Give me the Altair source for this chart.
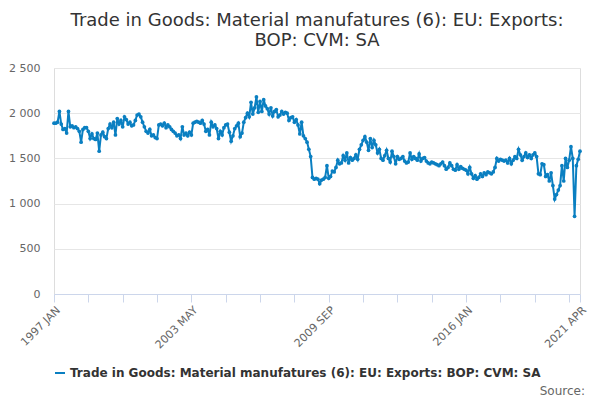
import altair as alt
import pandas as pd

values = [
    1890, 1890, 1900, 2020, 1880, 1820, 1830, 1780, 2020, 1850, 1860, 1840,
    1850, 1830, 1800, 1680, 1820, 1840, 1840, 1800, 1720, 1770, 1720, 1710,
    1780, 1580, 1760, 1790, 1740, 1720, 1830, 1880, 1840, 1900, 1760, 1940,
    1880, 1920, 1850, 1960, 1930, 1880, 1900, 1860, 1870, 1920, 1980, 1990,
    1960, 1900, 1850, 1800, 1780, 1820, 1750, 1760, 1730, 1720, 1870, 1880,
    1860, 1890, 1840, 1870, 1850, 1820, 1800, 1780, 1750, 1760, 1720, 1850,
    1760, 1780, 1750, 1790, 1760, 1890, 1900, 1910, 1900, 1890, 1920, 1880,
    1800, 1820, 1760, 1900, 1850, 1870, 1830, 1720, 1800, 1760, 1840, 1870,
    1880, 1790, 1690, 1750, 1830, 1860, 1890, 1740, 1780, 1900, 1950, 2000,
    1960, 2120, 1990, 2060, 2180, 2010, 2130, 2020, 2150, 2080, 2050, 1990,
    2060, 1970, 2020, 2040, 1960, 1980, 2020, 1990, 2010, 2000, 1920, 1950,
    1960, 1900, 1930, 1870, 1770, 1900, 1750, 1720, 1680, 1600, 1520, 1290,
    1270, 1280, 1270, 1220, 1260, 1270, 1290, 1420, 1280, 1300, 1360, 1350,
    1400, 1480, 1440, 1450, 1530, 1480, 1560, 1450, 1510, 1480, 1500, 1540,
    1490, 1600, 1650, 1700, 1740, 1680, 1590, 1720, 1620, 1700, 1650, 1560,
    1600, 1500, 1480, 1530, 1590, 1500, 1460, 1580, 1520, 1440, 1520, 1490,
    1500, 1520, 1470, 1450, 1460, 1560, 1490, 1520, 1500, 1480, 1550, 1470,
    1500, 1510, 1470, 1450, 1440, 1460, 1450, 1440, 1430, 1420, 1440, 1460,
    1420, 1380, 1400, 1450, 1420, 1380, 1370, 1430, 1380, 1410, 1390, 1380,
    1370, 1330, 1400, 1330, 1280, 1310, 1270, 1290, 1330, 1300, 1340, 1320,
    1350, 1340, 1330, 1350, 1400, 1500, 1470, 1490, 1480, 1470, 1480, 1450,
    1500, 1440, 1480, 1520, 1500, 1600, 1540, 1480, 1520, 1560, 1510, 1540,
    1500, 1540, 1560, 1520, 1330, 1320, 1440, 1430, 1300, 1320, 1250, 1340,
    1200, 1050, 1100, 1150, 1200, 1420, 1250, 1500, 1400, 1480, 1630, 1500,
    860, 1420, 1490, 1580,
]
months = ["JAN", "FEB", "MAR", "APR", "MAY", "JUN", "JUL", "AUG", "SEP", "OCT", "NOV", "DEC"]
labels = [f"{1997 + i // 12} {months[i % 12]}" for i in range(len(values))]
series = "Trade in Goods: Material manufatures (6): EU: Exports: BOP: CVM: SA"

df = pd.DataFrame({"idx": range(len(values)), "label": labels, "value": values, "series": series})

label_idx = [0, 76, 152, 228, 291]
tick_idx = list(range(0, 291, 19)) + [291]
label_expr = " : ".join(
    f"datum.value == {i} ? '{labels[i]}'" for i in label_idx
) + " : ''"

line = alt.Chart(df).mark_line(
    color="#0a7fc1", strokeWidth=2,
    point=alt.OverlayMarkDef(color="#0a7fc1", size=14, filled=True),
).encode(
    x=alt.X("idx:Q", scale=alt.Scale(domain=[0, 291], nice=False),
            axis=alt.Axis(title=None, values=tick_idx, labelExpr=label_expr, labelAngle=-45,
                          grid=False, domainColor="#ccd6eb", tickColor="#ccd6eb", tickSize=8,
                          labelColor="#666666", labelFontSize=11, labelOverlap=False)),
    y=alt.Y("value:Q", scale=alt.Scale(domain=[0, 2500]),
            axis=alt.Axis(title=None, values=[0, 500, 1000, 1500, 2000, 2500],
                          labelExpr="replace(format(datum.value, ','), ',', ' ')",
                          domain=False, ticks=False, gridColor="#e6e6e6",
                          labelColor="#666666", labelFontSize=11, labelPadding=14)),
    color=alt.Color("series:N", scale=alt.Scale(range=["#0a7fc1"]),
                    legend=alt.Legend(title=None, orient="bottom", labelFontSize=12,
                                      labelFontWeight="bold", labelColor="#333333",
                                      labelLimit=0, symbolType="stroke", symbolStrokeWidth=2,
                                      offset=16)),
    tooltip=["label:N", "value:Q"],
)

source = alt.Chart(pd.DataFrame({"t": ["Source:"]})).mark_text(
    align="right", fontSize=12, color="#666666"
).encode(x=alt.value(531), y=alt.value(323), text="t:N")

chart = alt.layer(line, source).properties(
    width=526, height=226,
    padding={"left": 0, "top": 4, "right": 0, "bottom": 0},
    title=alt.Title(["Trade in Goods: Material manufatures (6): EU: Exports:", "BOP: CVM: SA"],
                    fontSize=18, fontWeight="normal", color="#333333", offset=12),
).configure_view(stroke=None).configure(font="DejaVu Sans")

chart.save("out.html", embed_options={"renderer": "svg", "actions": False})
